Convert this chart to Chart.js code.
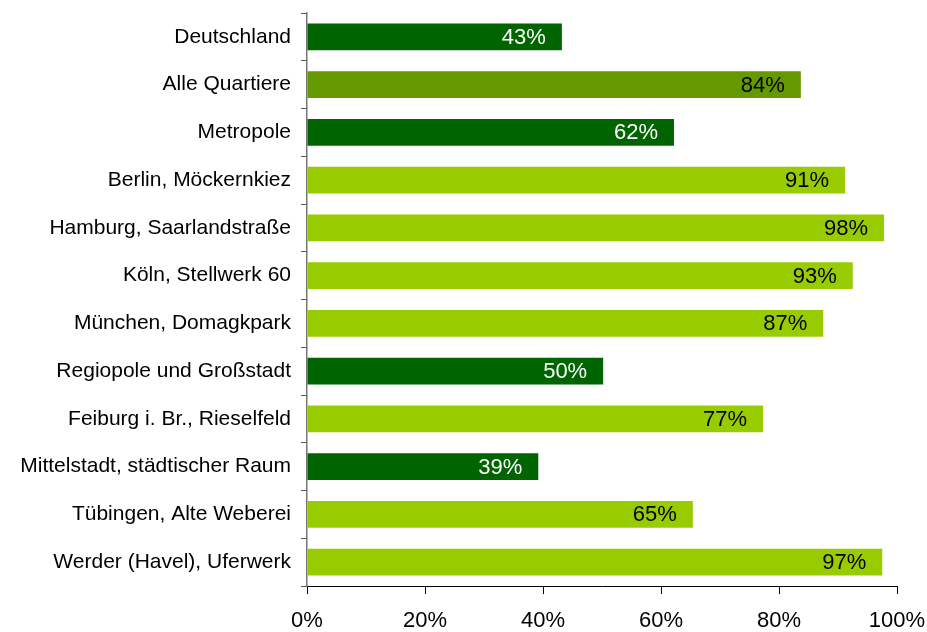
<!DOCTYPE html>
<html>
<head>
<meta charset="utf-8">
<script src="https://cdn.jsdelivr.net/npm/chart.js@4"></script>
<style>
  html, body { margin: 0; padding: 0; background: #fff; }
  #wrap { width: 927px; height: 632px; }
</style>
</head>
<body>
<div id="wrap"><canvas id="chart" width="927" height="632"></canvas></div>
<script>
// --- data ---
const categories = [
    'Deutschland', 'Alle Quartiere', 'Metropole', 'Berlin, Möckernkiez',
    'Hamburg, Saarlandstraße', 'Köln, Stellwerk 60', 'München, Domagkpark',
    'Regiopole und Großstadt', 'Feiburg i. Br., Rieselfeld',
    'Mittelstadt, städtischer Raum', 'Tübingen, Alte Weberei',
    'Werder (Havel), Uferwerk'
];
const shares = [43.2, 83.7, 62.2, 91.2, 97.8, 92.5, 87.5, 50.2, 77.3, 39.2, 65.4, 97.5];
const shareLabels = ['43%', '84%', '62%', '91%', '98%', '93%', '87%', '50%', '77%', '39%', '65%', '97%'];
// 'agg' = region aggregate, 'all' = all districts, 'q' = single district
const kinds = ['agg', 'all', 'agg', 'q', 'q', 'q', 'q', 'agg', 'q', 'agg', 'q', 'q'];
const xTicks = [0, 20, 40, 60, 80, 100];

const COLORS = { agg: '#006400', all: '#669900', q: '#99CC00' };
const LABEL_COLORS = { agg: '#ffffff', all: '#000000', q: '#000000' };
const FONT = "'Liberation Sans', Arial, sans-serif";

// draws the value inside the end of each bar
const valueLabels = {
    id: 'valueLabels',
    afterDatasetsDraw(chart) {
        const ctx = chart.ctx;
        const meta = chart.getDatasetMeta(0);
        ctx.save();
        ctx.font = '22px ' + FONT;
        ctx.textAlign = 'right';
        ctx.textBaseline = 'middle';
        meta.data.forEach((bar, i) => {
            ctx.fillStyle = LABEL_COLORS[kinds[i]];
            ctx.fillText(shareLabels[i], bar.x - 16, bar.y + 1);
        });
        ctx.restore();
    }
};

new Chart(document.getElementById('chart'), {
    type: 'bar',
    data: {
        labels: categories,
        datasets: [{
            data: shares,
            backgroundColor: kinds.map(k => COLORS[k]),
            borderWidth: 0,
            categoryPercentage: 0.56,
            barPercentage: 1.0
        }]
    },
    options: {
        indexAxis: 'y',
        responsive: false,
        animation: false,
        layout: { padding: { top: 13, right: 30, left: 0, bottom: 0 } },
        plugins: { legend: { display: false }, tooltip: { enabled: false } },
        scales: {
            x: {
                min: 0,
                max: 100,
                afterBuildTicks(scale) {
                    scale.ticks = xTicks.map(v => ({ value: v }));
                },
                afterFit(scale) {
                    scale.height = 46;
                    scale.paddingLeft = 0;
                    scale.paddingRight = 0;
                },
                grid: {
                    drawOnChartArea: false,
                    drawTicks: true,
                    tickLength: 8,
                    color: '#000'
                },
                border: { color: '#000', width: 1 },
                ticks: {
                    color: '#000',
                    padding: 14,
                    maxRotation: 0,
                    font: { family: FONT, size: 22 },
                    callback: v => v + '%'
                }
            },
            y: {
                offset: true,
                afterFit(scale) {
                    scale.width = 307;
                    scale.paddingTop = 0;
                    scale.paddingBottom = 0;
                },
                grid: {
                    offset: true,
                    drawOnChartArea: false,
                    tickLength: 6,
                    color: '#555'
                },
                border: { color: '#777', width: 1.5 },
                ticks: {
                    color: '#000',
                    padding: 10,
                    autoSkip: false,
                    font: { family: FONT, size: 21 }
                }
            }
        }
    },
    plugins: [valueLabels]
});
</script>
</body>
</html>
